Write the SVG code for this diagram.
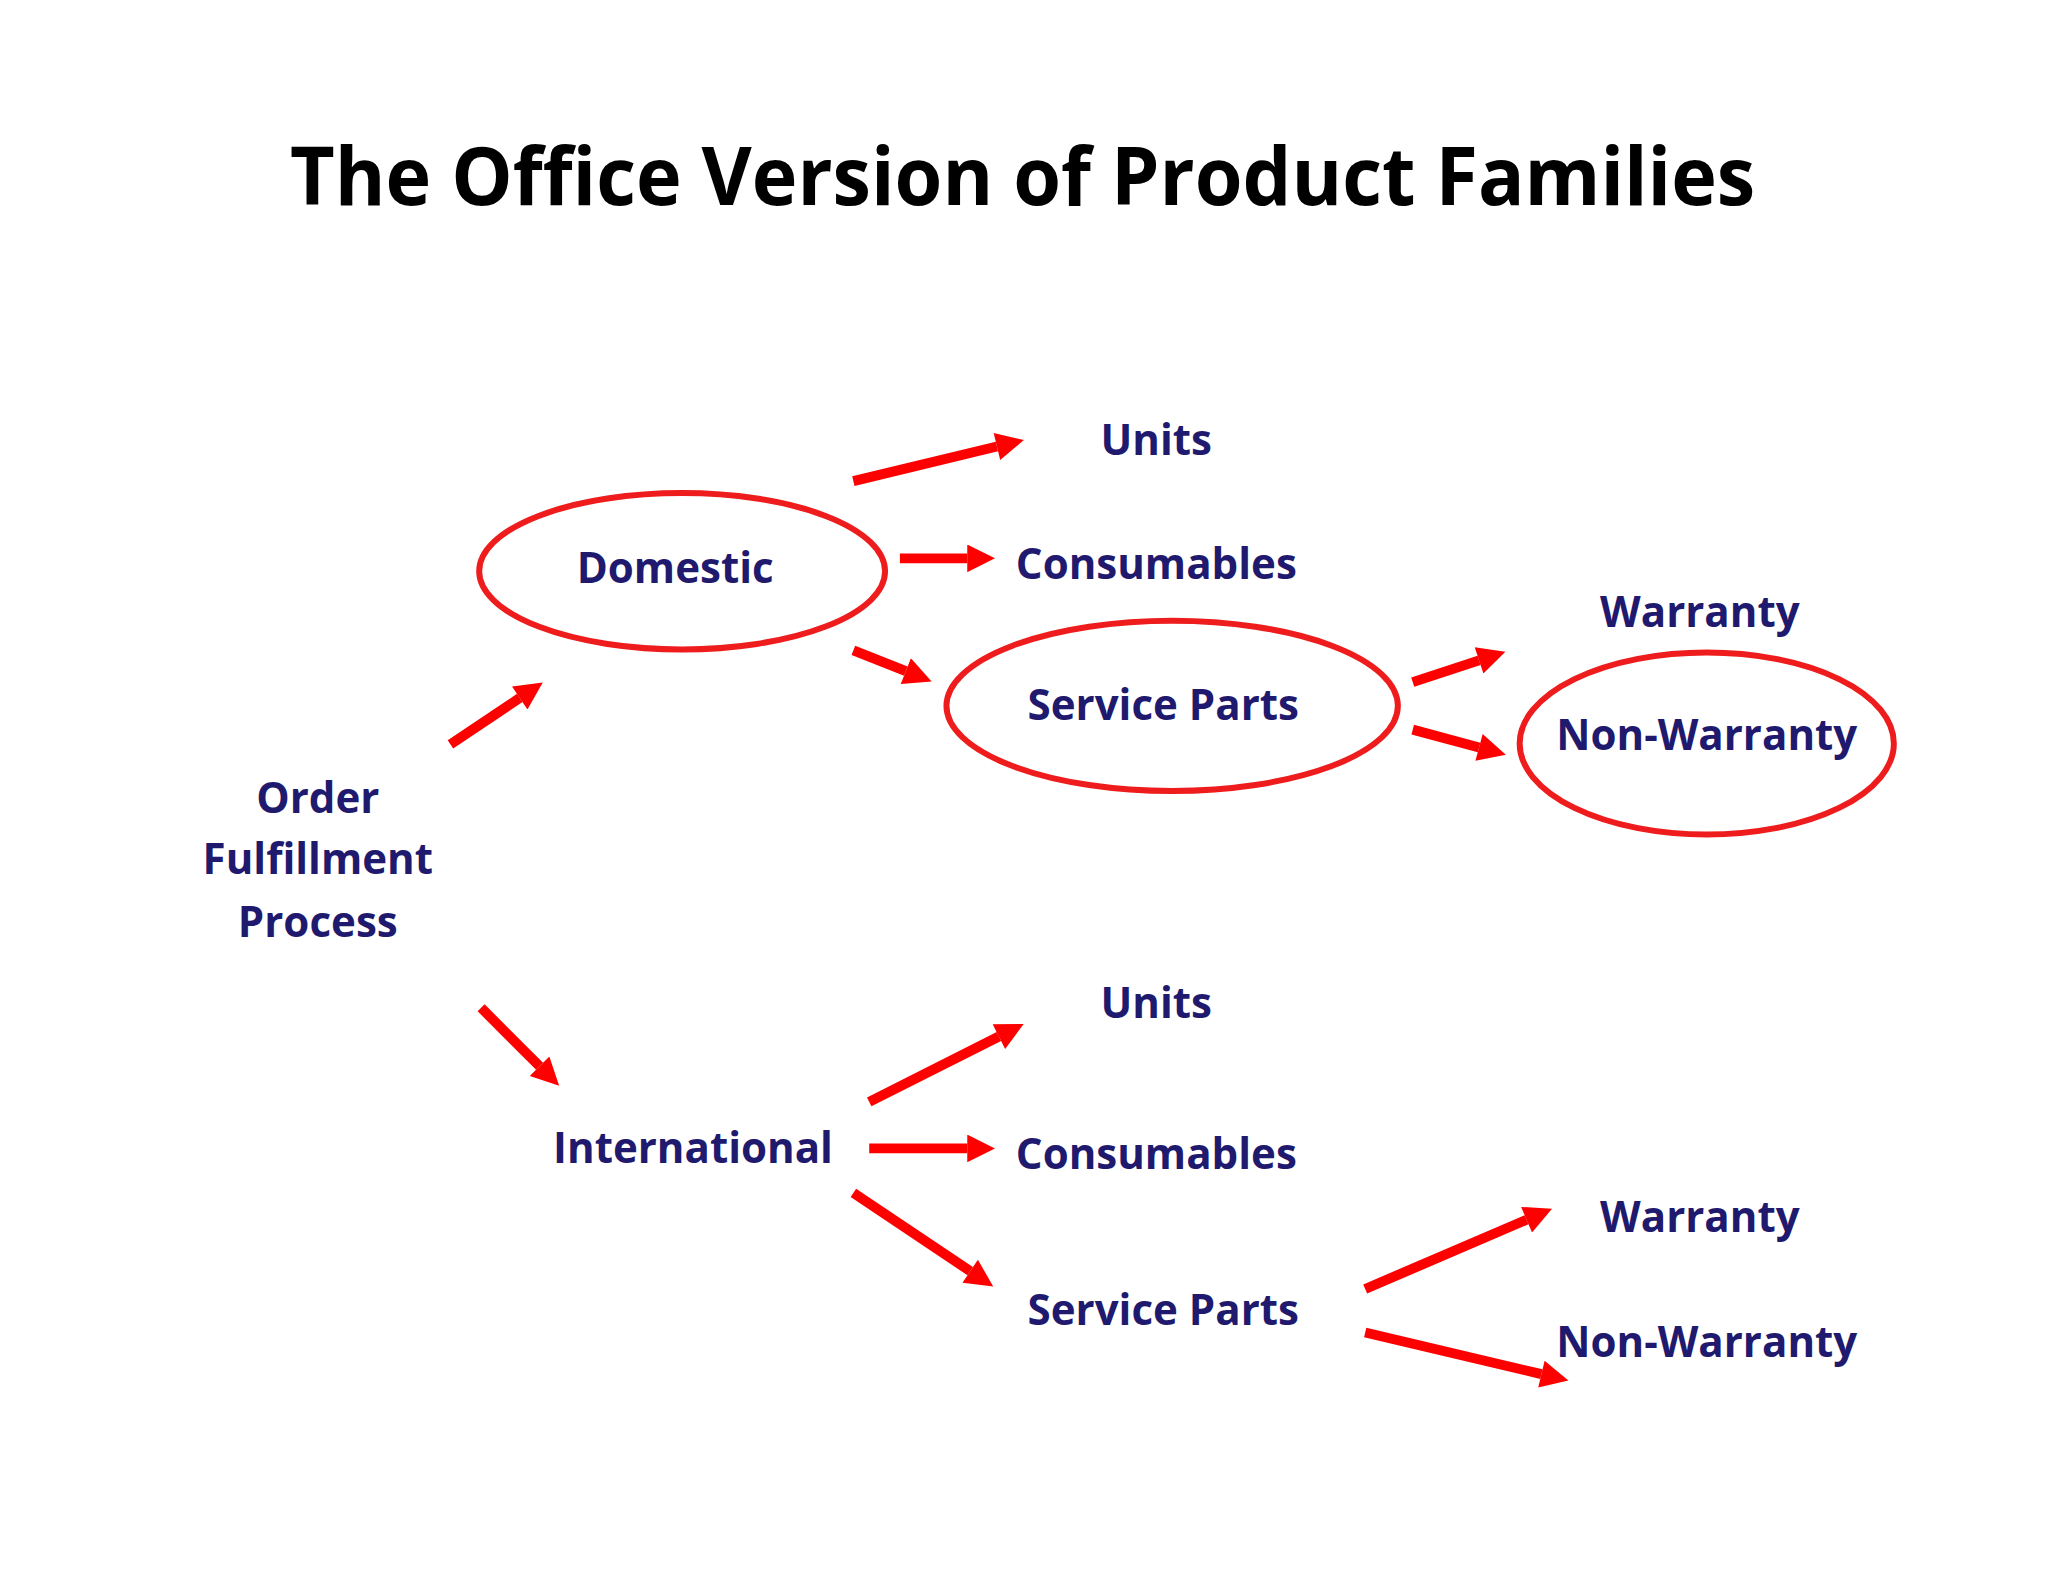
<svg xmlns="http://www.w3.org/2000/svg" width="2048" height="1582" viewBox="0 0 2048 1582">
<style>
.t{font-family:"Open Sans","Liberation Sans",sans-serif;font-weight:bold;fill:#1f1a6e;font-size:42.5px;text-anchor:middle}
.e{fill:none;stroke:#ee1c1c;stroke-width:6}
.a{stroke:#f00;stroke-width:10;fill:none;marker-end:url(#h)}
</style>
<defs><marker id="h" viewBox="0 0 10 10" refX="0" refY="5" markerWidth="3.1" markerHeight="2.8" orient="auto" markerUnits="strokeWidth"><path d="M0,0L10,5L0,10z" fill="#f00"/></marker></defs>
<rect width="2048" height="1582" fill="#fff"/>
<g transform="scale(0.99)">
<text x="1033" y="207" font-family="'Open Sans','Liberation Sans',sans-serif" font-weight="bold" font-size="82" text-anchor="middle" fill="#000" textLength="1480" lengthAdjust="spacingAndGlyphs">The Office Version of Product Families</text>
<g id="order"><text class="t" x="321" y="821">Order</text><text class="t" x="321" y="883">Fulfillment</text><text class="t" x="321" y="946">Process</text></g>
<g id="domestic"><ellipse class="e" cx="689" cy="577" rx="205" ry="79"/><text class="t" x="682" y="589">Domestic</text></g>
<g id="units1"><text class="t" x="1168" y="460">Units</text></g>
<g id="cons1"><text class="t" x="1168" y="585">Consumables</text></g>
<g id="sp1"><ellipse class="e" cx="1184" cy="713" rx="228" ry="86"/><text class="t" x="1175" y="727">Service Parts</text></g>
<g id="war1"><text class="t" x="1717" y="633">Warranty</text></g>
<g id="nw1"><ellipse class="e" cx="1724" cy="751" rx="189" ry="92"/><text class="t" x="1724" y="758">Non-Warranty</text></g>
<g id="intl"><text class="t" x="700" y="1175">International</text></g>
<g id="units2"><text class="t" x="1168" y="1028">Units</text></g>
<g id="cons2"><text class="t" x="1168" y="1181">Consumables</text></g>
<g id="sp2"><text class="t" x="1175" y="1338">Service Parts</text></g>
<g id="war2"><text class="t" x="1717" y="1244">Warranty</text></g>
<g id="nw2"><text class="t" x="1724" y="1371">Non-Warranty</text></g>
<g id="connectors">
<line class="a" x1="455" y1="752" x2="525" y2="705"/>
<line class="a" x1="486" y1="1018" x2="545" y2="1077"/>
<line class="a" x1="862" y1="486" x2="1007" y2="451"/>
<line class="a" x1="909" y1="564" x2="977" y2="564"/>
<line class="a" x1="862" y1="657" x2="915" y2="678"/>
<line class="a" x1="1427" y1="689" x2="1494" y2="667"/>
<line class="a" x1="1427" y1="737" x2="1494" y2="755"/>
<line class="a" x1="878" y1="1113" x2="1009" y2="1047"/>
<line class="a" x1="878" y1="1160" x2="977" y2="1160"/>
<line class="a" x1="862" y1="1205" x2="980" y2="1284"/>
<line class="a" x1="1379" y1="1302" x2="1542" y2="1232"/>
<line class="a" x1="1379" y1="1346" x2="1557" y2="1388"/>
</g>
</g>
</svg>
